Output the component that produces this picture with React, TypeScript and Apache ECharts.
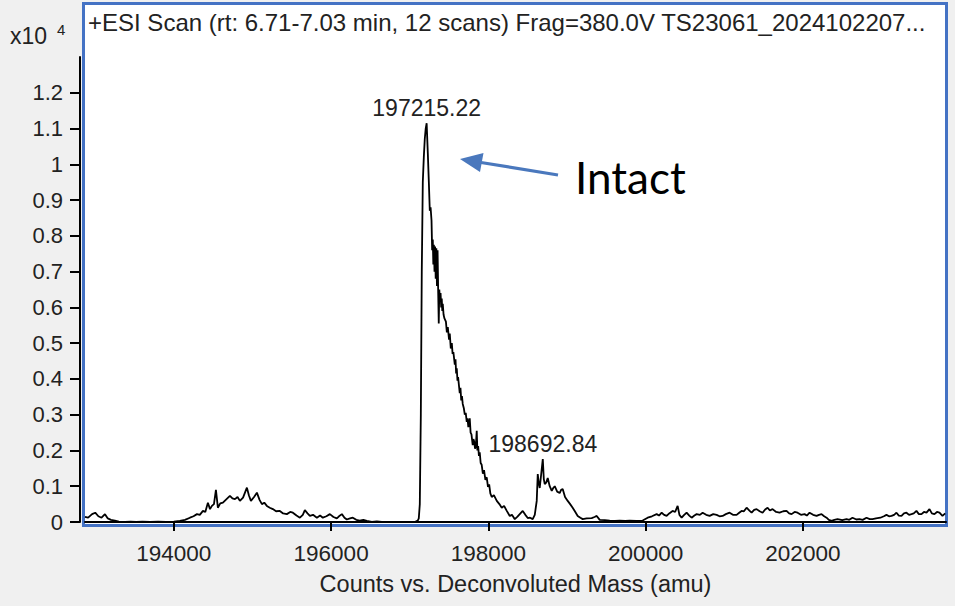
import { useEffect, useRef } from 'react'
import * as echarts from 'echarts'

// deconvoluted mass (amu)
const masses = [
  192870, 192910, 192960, 193000, 193040, 193080, 193124, 193160, 193200, 193250,
  193300, 193380, 193450, 193520, 193600, 193700, 193800, 193900, 194000, 194077,
  194141, 194205, 194250, 194294, 194330, 194370, 194400, 194433, 194460, 194484,
  194510, 194535, 194560, 194590, 194624, 194660, 194713, 194745, 194777, 194810,
  194840, 194880, 194929, 194955, 194980, 195020, 195056, 195090, 195120, 195150,
  195183, 195220, 195259, 195300, 195348, 195390, 195437, 195480, 195514, 195560,
  195603, 195640, 195666, 195700, 195730, 195770, 195819, 195860, 195895, 195940,
  195984, 196030, 196073, 196100, 196137, 196170, 196200, 196240, 196276, 196320,
  196365, 196410, 196454, 196518, 196581, 196645, 196750, 196870, 197000, 197064,
  197102, 197115, 197128, 197141, 197153, 197166, 197179, 197191, 197203, 197215,
  197230, 197243, 197255, 197265, 197277, 197285, 197293, 197300, 197307, 197315,
  197322, 197330, 197338, 197346, 197354, 197362, 197369, 197376, 197384, 197392,
  197400, 197407, 197414, 197420, 197430, 197440, 197460, 197472, 197484, 197500,
  197509, 197522, 197535, 197545, 197555, 197573, 197582, 197590, 197598, 197607,
  197615, 197636, 197645, 197655, 197664, 197674, 197688, 197700, 197712, 197725,
  197735, 197745, 197763, 197774, 197785, 197801, 197810, 197820, 197830, 197840,
  197852, 197860, 197870, 197880, 197890, 197902, 197915, 197930, 197945, 197962,
  197979, 197995, 198010, 198025, 198043, 198070, 198107, 198140, 198170, 198200,
  198234, 198272, 198300, 198336, 198370, 198399, 198437, 198470, 198501, 198530,
  198564, 198590, 198615, 198628, 198640, 198653, 198670, 198692, 198705, 198717,
  198735, 198755, 198780, 198806, 198825, 198844, 198875, 198907, 198925, 198945,
  198975, 199009, 199040, 199072, 199100, 199136, 199170, 199200, 199250, 199314,
  199350, 199378, 199416, 199480, 199543, 199610, 199670, 199740, 199797, 199880,
  199962, 200026, 200080, 200140, 200170, 200204, 200235, 200267, 200300, 200343,
  200375, 200407, 200430, 200458, 200490, 200521, 200555, 200585, 200620, 200649,
  200690, 200725, 200770, 200814, 200860, 200903, 200940, 200979, 201020, 201068,
  201110, 201157, 201190, 201220, 201250, 201284, 201320, 201348, 201380, 201411,
  201450, 201487, 201520, 201551, 201580, 201614, 201660, 201703, 201750, 201792,
  201825, 201856, 201895, 201932, 201975, 202021, 202050, 202085, 202130, 202174,
  202205, 202237, 202270, 202301, 202330, 202365, 202400, 202441, 202500, 202555,
  202590, 202631, 202680, 202720, 202760, 202809, 202850, 202885, 202930, 202986,
  203030, 203063, 203095, 203127, 203160, 203190, 203220, 203254, 203285, 203317,
  203350, 203381, 203410, 203444, 203475, 203508, 203540, 203572, 203610, 203640,
  203673, 203705, 203737, 203775, 203810,
]

// counts, x10^4
const counts = [
  0.014, 0.012, 0.022, 0.026, 0.016, 0.012, 0.022, 0.010, 0.006, 0.004,
  0.001, 0.000, 0.001, 0.000, 0.001, 0.000, 0.001, 0.000, 0.001, 0.003,
  0.006, 0.012, 0.016, 0.022, 0.020, 0.031, 0.028, 0.054, 0.036, 0.045,
  0.050, 0.090, 0.040, 0.052, 0.054, 0.062, 0.073, 0.066, 0.064, 0.070,
  0.059, 0.068, 0.096, 0.074, 0.059, 0.070, 0.082, 0.062, 0.050, 0.054,
  0.045, 0.040, 0.036, 0.030, 0.031, 0.024, 0.022, 0.028, 0.026, 0.018,
  0.012, 0.020, 0.033, 0.024, 0.017, 0.020, 0.012, 0.018, 0.012, 0.016,
  0.022, 0.014, 0.010, 0.016, 0.022, 0.012, 0.007, 0.010, 0.012, 0.006,
  0.004, 0.006, 0.003, 0.000, 0.002, 0.000, 0.000, 0.000, 0.000, 0.000,
  0.004, 0.010, 0.050, 0.300, 0.700, 0.950, 1.020, 1.070, 1.100, 1.115,
  1.030, 0.950, 0.870, 0.880, 0.843, 0.760, 0.790, 0.720, 0.775, 0.700,
  0.770, 0.680, 0.765, 0.660, 0.760, 0.640, 0.555, 0.650, 0.620, 0.640,
  0.600, 0.625, 0.590, 0.610, 0.580, 0.570, 0.560, 0.530, 0.545, 0.510,
  0.527, 0.485, 0.500, 0.470, 0.475, 0.440, 0.455, 0.415, 0.430, 0.395,
  0.405, 0.360, 0.375, 0.340, 0.352, 0.330, 0.318, 0.300, 0.305, 0.280,
  0.290, 0.265, 0.290, 0.250, 0.245, 0.215, 0.232, 0.225, 0.205, 0.210,
  0.255, 0.200, 0.212, 0.185, 0.195, 0.165, 0.160, 0.135, 0.145, 0.118,
  0.125, 0.098, 0.105, 0.080, 0.070, 0.075, 0.059, 0.050, 0.040, 0.045,
  0.031, 0.017, 0.020, 0.008, 0.015, 0.022, 0.031, 0.020, 0.011, 0.012,
  0.008, 0.020, 0.059, 0.134, 0.110, 0.095, 0.130, 0.176, 0.120, 0.106,
  0.110, 0.123, 0.100, 0.087, 0.095, 0.100, 0.085, 0.081, 0.090, 0.092,
  0.070, 0.059, 0.050, 0.040, 0.030, 0.017, 0.012, 0.008, 0.010, 0.011,
  0.014, 0.017, 0.006, 0.005, 0.004, 0.003, 0.004, 0.003, 0.004, 0.003,
  0.004, 0.012, 0.016, 0.022, 0.018, 0.026, 0.020, 0.017, 0.024, 0.031,
  0.028, 0.045, 0.020, 0.012, 0.020, 0.026, 0.018, 0.012, 0.018, 0.022,
  0.020, 0.026, 0.020, 0.017, 0.022, 0.020, 0.016, 0.017, 0.022, 0.026,
  0.020, 0.020, 0.026, 0.031, 0.030, 0.040, 0.032, 0.026, 0.034, 0.036,
  0.030, 0.026, 0.035, 0.040, 0.032, 0.036, 0.028, 0.026, 0.030, 0.031,
  0.024, 0.022, 0.028, 0.026, 0.020, 0.022, 0.018, 0.026, 0.020, 0.017,
  0.020, 0.022, 0.016, 0.012, 0.006, 0.003, 0.006, 0.008, 0.005, 0.008,
  0.006, 0.012, 0.007, 0.008, 0.006, 0.012, 0.008, 0.008, 0.010, 0.012,
  0.016, 0.020, 0.016, 0.017, 0.020, 0.026, 0.018, 0.017, 0.024, 0.026,
  0.020, 0.022, 0.024, 0.031, 0.022, 0.022, 0.028, 0.026, 0.036, 0.024,
  0.022, 0.028, 0.026, 0.017, 0.024,
]

const xTicks = [194000, 196000, 198000, 200000, 202000]
const yTicks = [0, 0.1, 0.2, 0.3, 0.4, 0.5, 0.6, 0.7, 0.8, 0.9, 1, 1.1, 1.2]

const peakMasses = [197215.22, 198692.84]
const peakHeights = [1.115, 0.176]

const titleText =
  '+ESI Scan (rt: 6.71-7.03 min, 12 scans) Frag=380.0V TS23061_2024102207...'

const font = '"Liberation Sans", Arial, sans-serif'
const ink = '#222'
const blue = '#4472c4'

export default function App() {
  const chartRef = useRef<HTMLDivElement>(null)

  useEffect(() => {
    document.body.style.margin = '0'
    if (!chartRef.current) return
    const chart = echarts.init(chartRef.current, undefined, { renderer: 'svg' })

    const option: echarts.EChartsOption = {
      animation: false,
      backgroundColor: '#f0f0f0',
      textStyle: { fontFamily: font },
      grid: { left: 85, right: 9, top: 57, bottom: 84 },
      xAxis: {
        type: 'value',
        min: 192870,
        max: 203820,
        offset: 9,
        axisLine: { show: true, lineStyle: { color: '#000', width: 2 } },
        axisTick: {
          show: true,
          length: 9,
          customValues: xTicks,
          lineStyle: { color: '#000', width: 2 },
        },
        axisLabel: {
          customValues: xTicks,
          fontSize: 22.5,
          color: ink,
          margin: 11,
          formatter: (v: number) => String(v),
        },
        splitLine: { show: false },
        name: 'Counts vs. Deconvoluted Mass (amu)',
        nameLocation: 'middle',
        nameGap: 41,
        nameTextStyle: { fontSize: 23.5, color: ink },
      },
      yAxis: {
        type: 'value',
        min: 0,
        max: 1.3,
        offset: 5,
        axisLine: { show: true, onZero: false, lineStyle: { color: '#000', width: 2 } },
        axisTick: {
          show: true,
          length: 10,
          customValues: yTicks,
          lineStyle: { color: '#000', width: 2 },
        },
        axisLabel: {
          customValues: yTicks,
          fontSize: 22,
          color: ink,
          margin: 17,
          formatter: (v: number) => String(v),
        },
        splitLine: { show: false },
      },
      graphic: [
        {
          type: 'rect',
          z: 0,
          silent: true,
          shape: { x: 83.5, y: 3.5, width: 863, height: 522 },
          style: { fill: '#fff', stroke: blue, lineWidth: 3 },
        },
        {
          type: 'text',
          z: 10,
          x: 88,
          y: 22,
          style: {
            text: titleText,
            font: `24px ${font}`,
            fill: ink,
            verticalAlign: 'middle',
          },
        },
        {
          type: 'text',
          z: 10,
          x: 10,
          y: 36,
          style: { text: 'x10', font: `23px ${font}`, fill: ink, verticalAlign: 'middle' },
        },
        {
          type: 'text',
          z: 10,
          x: 57,
          y: 29,
          style: { text: '4', font: `15px ${font}`, fill: ink, verticalAlign: 'middle' },
        },
        // arrow pointing at the main peak
        {
          type: 'line',
          z: 10,
          shape: { x1: 558, y1: 175, x2: 481, y2: 162.5 },
          style: { stroke: '#4a78bd', lineWidth: 3.2 },
        },
        {
          type: 'polygon',
          z: 10,
          shape: {
            points: [
              [460, 159],
              [483.5, 153],
              [480, 172],
            ],
          },
          style: { fill: '#4a78bd' },
        },
        {
          type: 'text',
          z: 10,
          x: 575,
          y: 177,
          style: {
            text: 'Intact',
            font: '44px Lato, "Open Sans", sans-serif',
            fill: '#000',
            verticalAlign: 'middle',
          },
        },
      ],
      series: [
        {
          type: 'line',
          data: masses.map((m, i) => [m, counts[i]]),
          showSymbol: false,
          symbol: 'none',
          lineStyle: { color: '#000', width: 1.8 },
          z: 5,
          markPoint: {
            symbol: 'circle',
            symbolSize: 1,
            itemStyle: { color: 'rgba(0,0,0,0)' },
            label: {
              show: true,
              position: 'top',
              distance: 3,
              fontSize: 23,
              color: ink,
              fontFamily: font,
              formatter: (p: any) => p.name,
            },
            data: peakMasses.map((m, i) => ({
              name: m.toFixed(2),
              coord: [m, peakHeights[i]],
            })),
          },
        },
      ],
    }

    chart.setOption(option)

    return () => {
      chart.dispose()
    }
  }, [])

  return <div ref={chartRef} style={{ width: 955, height: 606 }} />
}
